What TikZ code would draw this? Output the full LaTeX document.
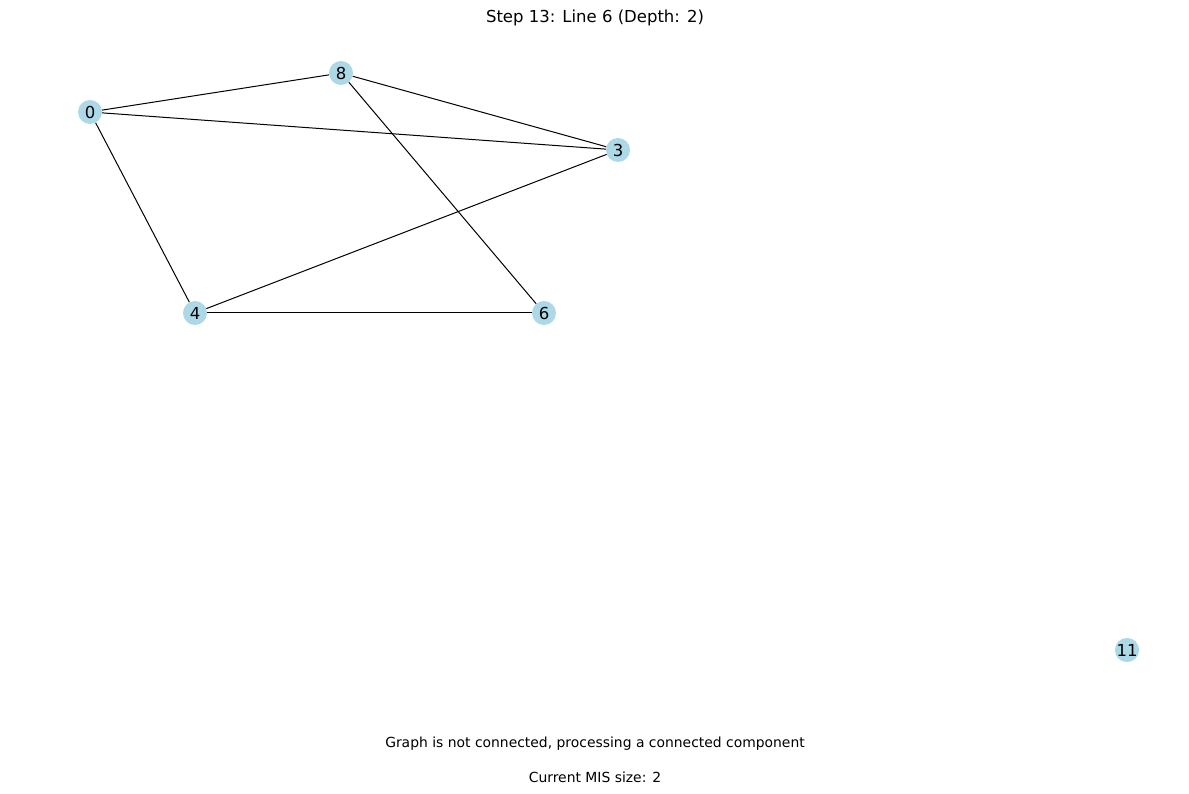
\documentclass[tikz,border=0pt]{standalone}
\usepackage{fontspec}
\setmainfont{DejaVu Sans}
\definecolor{nodeblue}{RGB}{173,216,230}
\begin{document}
\begin{tikzpicture}[x=1pt,y=-1pt,
  vertex/.style={circle,fill=nodeblue,draw=none,minimum size=24pt,inner sep=0pt,font=\fontsize{16.5}{18}\selectfont},
  edge/.style={draw=black,line width=1pt},
  lbl/.style={font=\fontsize{13.9}{16}\selectfont,inner sep=0pt}]
\useasboundingbox (0,0) rectangle (1189,794);
\node[vertex] (n0) at (90,112) {0};
\node[vertex] (n8) at (341,73) {8};
\node[vertex] (n3) at (618,150) {3};
\node[vertex] (n4) at (195,313) {4};
\node[vertex] (n6) at (544,313) {6};
\node[vertex] (n11) at (1127,650) {11};
\begin{scope}[on background layer/.try]
\end{scope}
\draw[edge] (n0) -- (n8);
\draw[edge] (n0) -- (n3);
\draw[edge] (n0) -- (n4);
\draw[edge] (n8) -- (n3);
\draw[edge] (n8) -- (n6);
\draw[edge] (n3) -- (n4);
\draw[edge] (n4) -- (n6);
\node[font=\fontsize{16.5}{18}\selectfont,inner sep=0pt] (title) at (595,18) {Step 13: Line 6 (Depth: 2)};
\node[lbl] (msg) at (595,744) {Graph is not connected, processing a connected component};
\node[lbl] (mis) at (595,777) {Current MIS size: 2};
\end{tikzpicture}
\end{document}
